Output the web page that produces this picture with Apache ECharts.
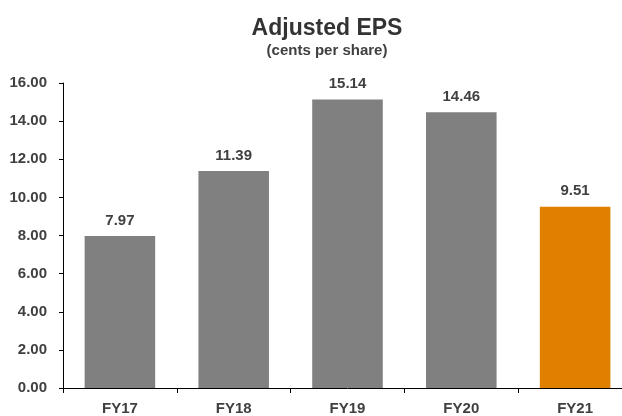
<!DOCTYPE html>
<html><head><meta charset="utf-8">
<script src="https://cdn.jsdelivr.net/npm/echarts@6/dist/echarts.min.js"></script>
<style>html,body{margin:0;padding:0;background:#fff;overflow:hidden}#c{width:640px;height:416px}</style>
</head><body><div id="c"></div>
<script>
const categories = ['FY17','FY18','FY19','FY20','FY21'];
const values = [7.97, 11.39, 15.14, 14.46, 9.51];
const barColors = ['#808080','#808080','#808080','#808080','#E08000'];
const yTicks = [0,2,4,6,8,10,12,14,16];

const chart = echarts.init(document.getElementById('c'));
const font = 'Liberation Sans, Arial, sans-serif';
chart.setOption({
  animation:false,
  title:{
    text:'Adjusted EPS', subtext:'(cents per share)',
    left:322, top:12, textAlign:'center', itemGap:3,
    textStyle:{fontFamily:font,fontSize:23,fontWeight:'bold',color:'#333'},
    subtextStyle:{fontFamily:font,fontSize:15,fontWeight:'bold',color:'#404040'}
  },
  grid:{left:63, top:83, width:569, height:309, containLabel:false},
  xAxis:{
    type:'category', data:categories,
    axisLine:{lineStyle:{color:'#000',width:1}},
    axisTick:{show:true,length:5,lineStyle:{color:'#000'}},
    axisLabel:{fontFamily:font,fontSize:15,fontWeight:'bold',color:'#404040',margin:13}
  },
  yAxis:{
    type:'value', min:yTicks[0], max:yTicks[yTicks.length-1], interval:2,
    axisLine:{show:true,lineStyle:{color:'#000',width:1}},
    axisTick:{show:true,length:4,lineStyle:{color:'#000'}},
    splitLine:{show:false},
    axisLabel:{fontFamily:font,fontSize:15,fontWeight:'bold',color:'#404040',margin:16,
      formatter:v=>v.toFixed(2)}
  },
  series:[{
    type:'bar', barWidth:'62%',
    data:values.map((v,i)=>({value:v,itemStyle:{color:barColors[i]}})),
    label:{show:true,position:'top',distance:8,fontFamily:font,fontSize:15,fontWeight:'bold',color:'#404040',
      formatter:p=>p.value.toFixed(2)}
  }]
});
</script></body></html>
